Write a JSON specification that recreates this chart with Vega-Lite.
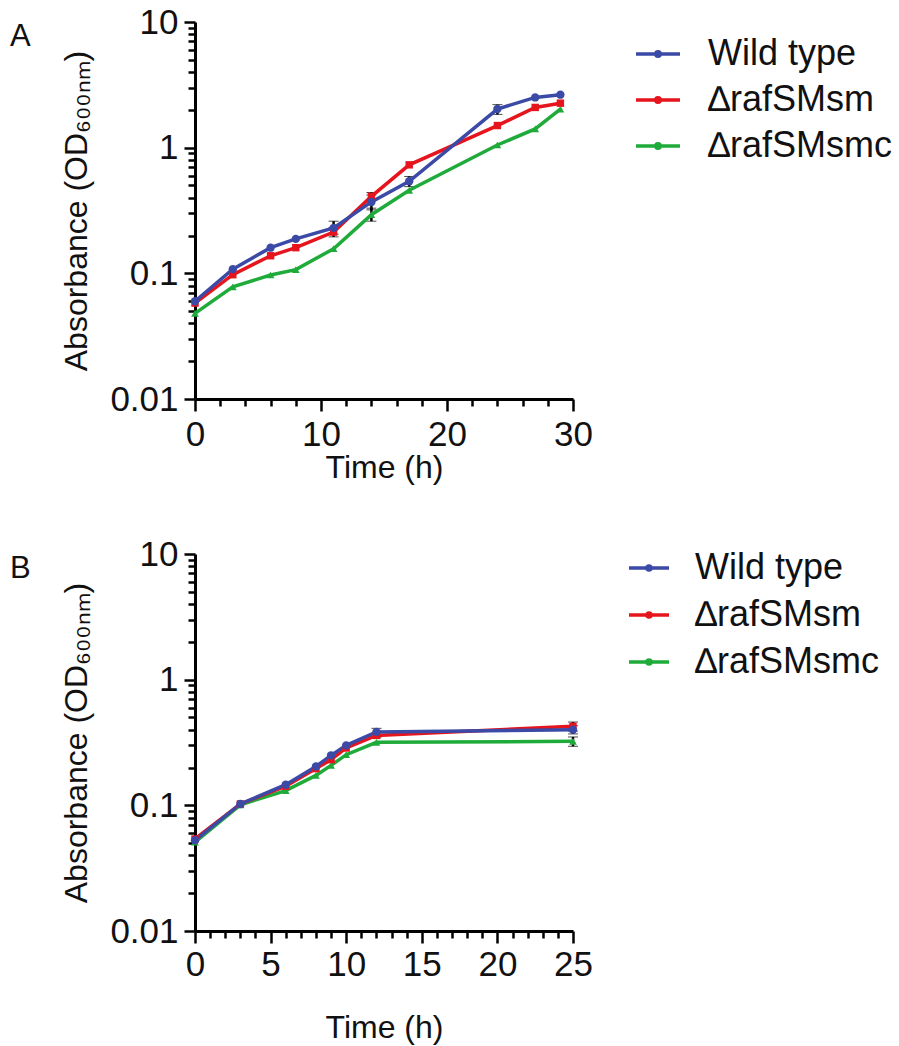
{
  "$schema": "https://vega.github.io/schema/vega-lite/v6.json",
  "background": "white",
  "padding": {"left": 10, "top": 5, "right": 5, "bottom": 2},
  "datasets": {
    "a": [
      {"t": 0, "od": 0.048, "strain": "∆rafSMsmc"}, {"t": 3, "od": 0.078, "strain": "∆rafSMsmc"}, {"t": 6, "od": 0.097, "strain": "∆rafSMsmc"}, {"t": 8, "od": 0.107, "strain": "∆rafSMsmc"}, {"t": 11, "od": 0.157, "strain": "∆rafSMsmc"}, {"t": 14, "od": 0.293, "strain": "∆rafSMsmc"}, {"t": 17, "od": 0.458, "strain": "∆rafSMsmc"}, {"t": 24, "od": 1.05, "strain": "∆rafSMsmc"}, {"t": 27, "od": 1.41, "strain": "∆rafSMsmc"}, {"t": 29, "od": 2.03, "strain": "∆rafSMsmc"},
      {"t": 0, "od": 0.058, "strain": "∆rafSMsm"}, {"t": 3, "od": 0.0975, "strain": "∆rafSMsm"}, {"t": 6, "od": 0.138, "strain": "∆rafSMsm"}, {"t": 8, "od": 0.16, "strain": "∆rafSMsm"}, {"t": 11, "od": 0.213, "strain": "∆rafSMsm"}, {"t": 14, "od": 0.41, "strain": "∆rafSMsm"}, {"t": 17, "od": 0.73, "strain": "∆rafSMsm"}, {"t": 24, "od": 1.5, "strain": "∆rafSMsm"}, {"t": 27, "od": 2.09, "strain": "∆rafSMsm"}, {"t": 29, "od": 2.26, "strain": "∆rafSMsm"},
      {"t": 0, "od": 0.06, "strain": "Wild type"}, {"t": 3, "od": 0.108, "strain": "Wild type"}, {"t": 6, "od": 0.16, "strain": "Wild type"}, {"t": 8, "od": 0.188, "strain": "Wild type"}, {"t": 11, "od": 0.23, "strain": "Wild type"}, {"t": 14, "od": 0.37, "strain": "Wild type"}, {"t": 17, "od": 0.54, "strain": "Wild type"}, {"t": 24, "od": 2.03, "strain": "Wild type"}, {"t": 27, "od": 2.51, "strain": "Wild type"}, {"t": 29, "od": 2.64, "strain": "Wild type"}
    ],
    "b": [
      {"t": 0, "od": 0.051, "strain": "∆rafSMsmc"}, {"t": 3, "od": 0.101, "strain": "∆rafSMsmc"}, {"t": 6, "od": 0.131, "strain": "∆rafSMsmc"}, {"t": 8, "od": 0.173, "strain": "∆rafSMsmc"}, {"t": 9, "od": 0.208, "strain": "∆rafSMsmc"}, {"t": 10, "od": 0.253, "strain": "∆rafSMsmc"}, {"t": 12, "od": 0.317, "strain": "∆rafSMsmc"}, {"t": 25, "od": 0.323, "strain": "∆rafSMsmc"},
      {"t": 0, "od": 0.054, "strain": "∆rafSMsm"}, {"t": 3, "od": 0.1025, "strain": "∆rafSMsm"}, {"t": 6, "od": 0.142, "strain": "∆rafSMsm"}, {"t": 8, "od": 0.196, "strain": "∆rafSMsm"}, {"t": 9, "od": 0.231, "strain": "∆rafSMsm"}, {"t": 10, "od": 0.286, "strain": "∆rafSMsm"}, {"t": 12, "od": 0.36, "strain": "∆rafSMsm"}, {"t": 25, "od": 0.425, "strain": "∆rafSMsm"},
      {"t": 0, "od": 0.0527, "strain": "Wild type"}, {"t": 3, "od": 0.1025, "strain": "Wild type"}, {"t": 6, "od": 0.146, "strain": "Wild type"}, {"t": 8, "od": 0.204, "strain": "Wild type"}, {"t": 9, "od": 0.25, "strain": "Wild type"}, {"t": 10, "od": 0.3, "strain": "Wild type"}, {"t": 12, "od": 0.384, "strain": "Wild type"}, {"t": 25, "od": 0.4, "strain": "Wild type"}
    ],
    "ea": [
      {"t": 11, "lo": 0.205, "hi": 0.26, "strain": "Wild type"},
      {"t": 11, "lo": 0.195, "hi": 0.232, "strain": "∆rafSMsm"},
      {"t": 14, "lo": 0.32, "hi": 0.42, "strain": "Wild type"},
      {"t": 14, "lo": 0.38, "hi": 0.44, "strain": "∆rafSMsm"},
      {"t": 14, "lo": 0.26, "hi": 0.33, "strain": "∆rafSMsmc"},
      {"t": 17, "lo": 0.49, "hi": 0.59, "strain": "Wild type"},
      {"t": 24, "lo": 1.84, "hi": 2.2, "strain": "Wild type"}
    ],
    "eb": [
      {"t": 12, "lo": 0.345, "hi": 0.41, "strain": "Wild type"},
      {"t": 25, "lo": 0.39, "hi": 0.46, "strain": "∆rafSMsm"},
      {"t": 25, "lo": 0.295, "hi": 0.35, "strain": "∆rafSMsmc"},
      {"t": 25, "lo": 0.37, "hi": 0.43, "strain": "Wild type"}
    ]
  },
  "spacing": 54,
  "vconcat": [
    {
      "width": 378,
      "height": 377,
      "title": {"text": "A", "anchor": "start", "frame": "group", "fontSize": 31, "fontWeight": "normal", "font": "Liberation Sans", "dx": -185, "dy": 52, "color": "#111"},
      "encoding": {
        "x": {"field": "t", "type": "quantitative", "scale": {"domain": [0, 30], "nice": false},
          "axis": {"title": "Time (h)", "values": [0,2,4,6,8,10,12,14,16,18,20,22,24,26,28,30], "labelOverlap": false, "titlePadding": 0,
            "labelExpr": "datum.value % 10 == 0 ? datum.label : ''",
            "tickSize": {"condition": {"test": "datum.value % 10 == 0", "value": 12}, "value": 7}}}
      },
      "layer": [
        {
          "data": {"name": "ea"},
          "mark": {"type": "errorbar", "ticks": {"color": "black", "strokeWidth": 2.5, "size": 10}, "rule": {"color": "black", "strokeWidth": 2.5}},
          "encoding": {
            "y": {"field": "lo", "type": "quantitative", "title": "Absorbance (OD₆₀₀ₙₘ)"},
            "y2": {"field": "hi"}
          }
        },
        {
          "data": {"name": "a"},
          "mark": {"type": "line", "strokeWidth": 3.5},
          "encoding": {
            "y": {"field": "od", "type": "quantitative", "scale": {"type": "log", "domain": [0.01, 10], "nice": false},
              "axis": {"title": "Absorbance (OD₆₀₀ₙₘ)", "values": [0.01,0.02,0.03,0.04,0.05,0.06,0.07,0.08,0.09,0.1,0.2,0.3,0.4,0.5,0.6,0.7,0.8,0.9,1,2,3,4,5,6,7,8,9,10], "labelOverlap": false,
                "labelExpr": "abs(log(datum.value)/LN10 - round(log(datum.value)/LN10)) < 0.0001 ? format(datum.value, '~g') : ''",
                "tickSize": {"condition": {"test": "abs(log(datum.value)/LN10 - round(log(datum.value)/LN10)) < 0.0001", "value": 11}, "value": 7}}},
            "color": {"field": "strain", "type": "nominal",
              "scale": {"domain": ["Wild type", "∆rafSMsm", "∆rafSMsmc"], "range": ["#3b4aa6", "#e5141d", "#1fab3a"]},
              "legend": {"orient": "none", "legendX": 439, "legendY": 8, "symbolSize": 1936, "labelOffset": 26}}
          }
        },
        {
          "data": {"name": "a"},
          "transform": [{"filter": "datum.strain === '∆rafSMsmc'"}],
          "mark": {"type": "point", "filled": true, "opacity": 1, "size": 60, "shape": "triangle-up", "color": "#1fab3a"},
          "encoding": {"y": {"field": "od", "type": "quantitative"}}
        },
        {
          "data": {"name": "a"},
          "transform": [{"filter": "datum.strain === '∆rafSMsm'"}],
          "mark": {"type": "point", "filled": true, "opacity": 1, "size": 55, "shape": "square", "color": "#e5141d"},
          "encoding": {"y": {"field": "od", "type": "quantitative"}}
        },
        {
          "data": {"name": "a"},
          "transform": [{"filter": "datum.strain === 'Wild type'"}],
          "mark": {"type": "point", "filled": true, "opacity": 1, "size": 70, "shape": "circle", "color": "#3b4aa6"},
          "encoding": {"y": {"field": "od", "type": "quantitative"}}
        }
      ]
    },
    {
      "width": 378,
      "height": 377,
      "title": {"text": "B", "anchor": "start", "frame": "group", "fontSize": 31, "fontWeight": "normal", "font": "Liberation Sans", "dx": -185, "dy": 52, "color": "#111"},
      "encoding": {
        "x": {"field": "t", "type": "quantitative", "scale": {"domain": [0, 25], "nice": false},
          "axis": {"title": "Time (h)", "values": [0,1,2,3,4,5,6,7,8,9,10,11,12,13,14,15,16,17,18,19,20,21,22,23,24,25], "labelOverlap": false, "titlePadding": 30, "labelPadding": 4,
            "labelExpr": "datum.value % 5 == 0 ? datum.label : ''",
            "tickSize": {"condition": {"test": "datum.value % 5 == 0", "value": 12}, "value": 7}}}
      },
      "layer": [
        {
          "data": {"name": "eb"},
          "mark": {"type": "errorbar", "ticks": {"color": "black", "strokeWidth": 2.5, "size": 10}, "rule": {"color": "black", "strokeWidth": 2.5}},
          "encoding": {
            "y": {"field": "lo", "type": "quantitative", "title": "Absorbance (OD₆₀₀ₙₘ)"},
            "y2": {"field": "hi"}
          }
        },
        {
          "data": {"name": "b"},
          "mark": {"type": "line", "strokeWidth": 3.5},
          "encoding": {
            "y": {"field": "od", "type": "quantitative", "scale": {"type": "log", "domain": [0.01, 10], "nice": false},
              "axis": {"title": "Absorbance (OD₆₀₀ₙₘ)", "values": [0.01,0.02,0.03,0.04,0.05,0.06,0.07,0.08,0.09,0.1,0.2,0.3,0.4,0.5,0.6,0.7,0.8,0.9,1,2,3,4,5,6,7,8,9,10], "labelOverlap": false,
                "labelExpr": "abs(log(datum.value)/LN10 - round(log(datum.value)/LN10)) < 0.0001 ? format(datum.value, '~g') : ''",
                "tickSize": {"condition": {"test": "abs(log(datum.value)/LN10 - round(log(datum.value)/LN10)) < 0.0001", "value": 11}, "value": 7}}},
            "color": {"field": "strain", "type": "nominal",
              "scale": {"domain": ["Wild type", "∆rafSMsm", "∆rafSMsmc"], "range": ["#3b4aa6", "#e5141d", "#1fab3a"]},
              "legend": {"orient": "none", "legendX": 432, "legendY": -8, "symbolSize": 1600, "labelOffset": 24, "rowPadding": 7}}
          }
        },
        {
          "data": {"name": "b"},
          "transform": [{"filter": "datum.strain === '∆rafSMsmc'"}],
          "mark": {"type": "point", "filled": true, "opacity": 1, "size": 60, "shape": "triangle-up", "color": "#1fab3a"},
          "encoding": {"y": {"field": "od", "type": "quantitative"}}
        },
        {
          "data": {"name": "b"},
          "transform": [{"filter": "datum.strain === '∆rafSMsm'"}],
          "mark": {"type": "point", "filled": true, "opacity": 1, "size": 55, "shape": "square", "color": "#e5141d"},
          "encoding": {"y": {"field": "od", "type": "quantitative"}}
        },
        {
          "data": {"name": "b"},
          "transform": [{"filter": "datum.strain === 'Wild type'"}],
          "mark": {"type": "point", "filled": true, "opacity": 1, "size": 70, "shape": "circle", "color": "#3b4aa6"},
          "encoding": {"y": {"field": "od", "type": "quantitative"}}
        }
      ]
    }
  ],
  "resolve": {"scale": {"color": "independent", "x": "independent", "y": "independent"}, "legend": {"color": "independent"}},
  "config": {
    "font": "Liberation Sans",
    "view": {"stroke": null},
    "axis": {
      "grid": false,
      "domainColor": "black", "domainWidth": 3,
      "tickColor": "black", "tickWidth": 2.5,
      "labelFont": "Liberation Sans", "labelFontSize": 35, "labelColor": "#111",
      "labelPadding": 6, "labelOverlap": false, "labelFlush": false,
      "titleFont": "Liberation Sans", "titleFontSize": 32, "titleFontWeight": "normal", "titleColor": "#111"
    },
    "axisY": {"titlePadding": 16},
    "axisX": {"labelOverlap": false},
    "legend": {
      "title": null,
      "labelFont": "Liberation Sans", "labelFontSize": 36, "labelColor": "#111", "labelLimit": 400,
      "symbolType": "M-1,0H1M-0.1,0a0.1,0.1 0 1,0 0.2,0a0.1,0.1 0 1,0 -0.2,0",
      "symbolSize": 1936, "symbolStrokeWidth": 3.5, "labelOffset": 25, "rowPadding": 4, "padding": 0
    }
  }
}
